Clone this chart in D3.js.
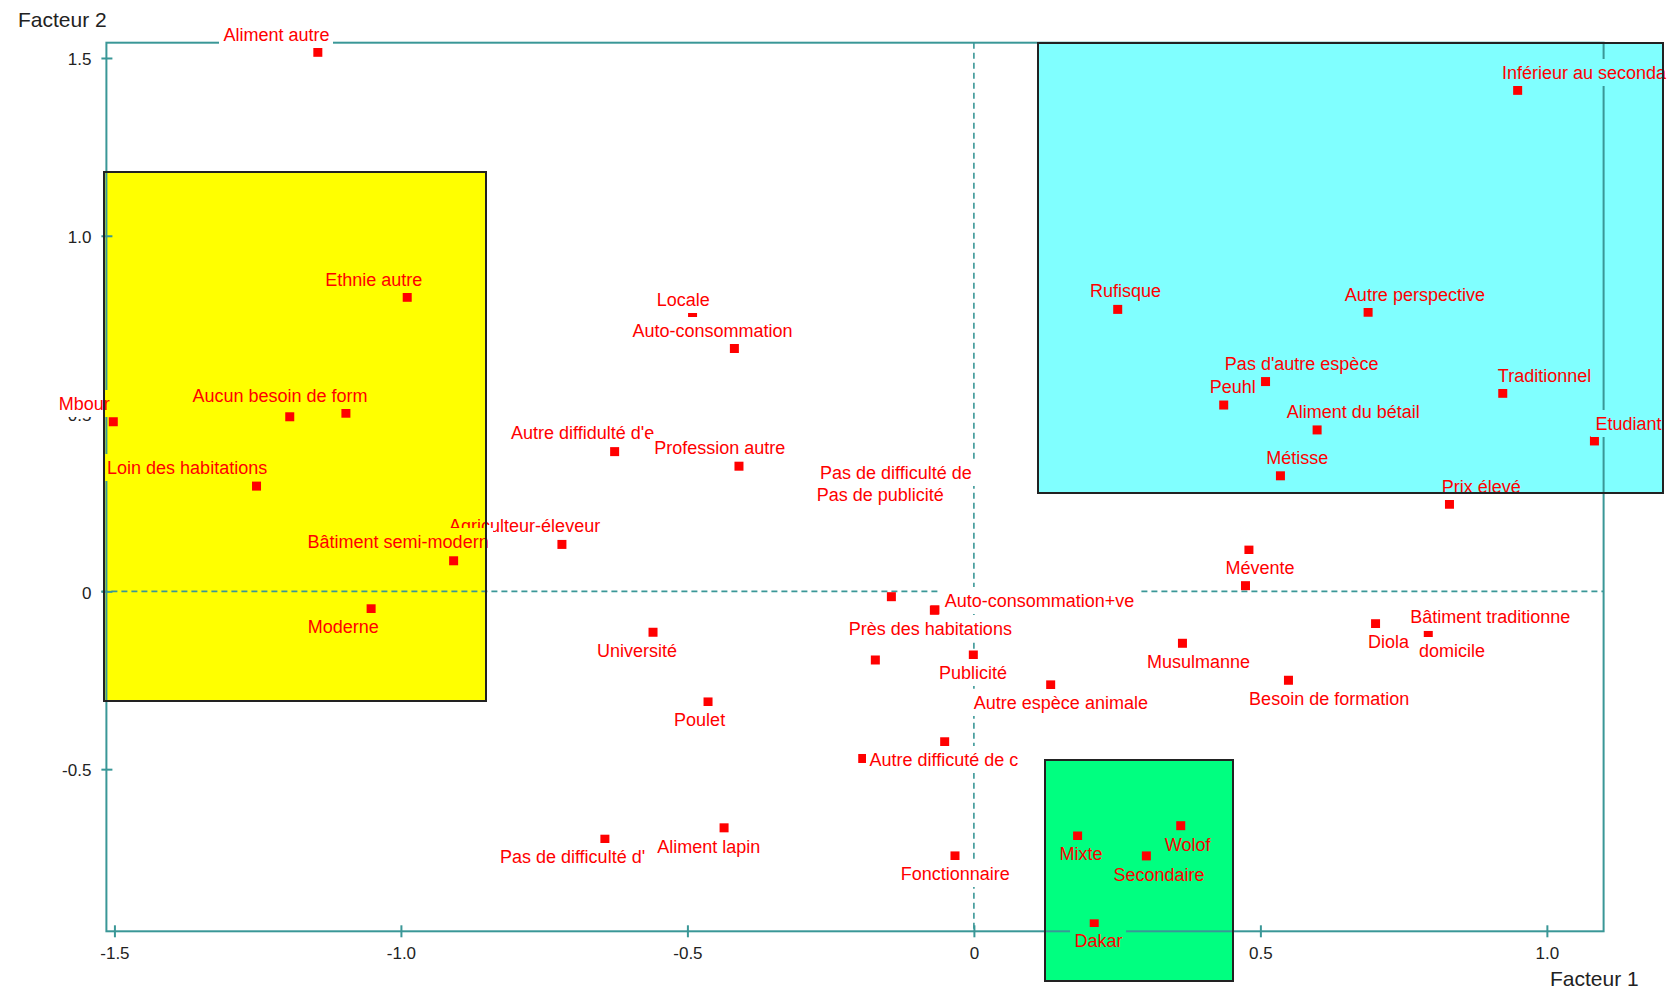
<!DOCTYPE html>
<html>
<head>
<meta charset="utf-8">
<script src="https://cdn.jsdelivr.net/npm/d3@7"></script>
<style>
  html, body { margin: 0; padding: 0; background: #ffffff; }
  svg { display: block; }
</style>
</head>
<body>
<svg id="chart" width="1675" height="991"></svg>
<script>
// Modalities of the correspondence analysis and their coordinates on factors 1 and 2
const modalities = [
  "Aliment autre", "Ethnie autre", "Mbour", "Aucun besoin de form", "",
  "Loin des habitations", "Agriculteur-éleveur", "Bâtiment semi-modern", "Moderne",
  "Locale", "Auto-consommation", "Autre diffidulté d'e", "Profession autre",
  "Pas de difficulté de", "Pas de publicité", "", "Auto-consommation+ve",
  "Près des habitations", "", "Publicité", "Autre espèce animale", "Musulmanne",
  "Université", "Poulet", "", "Autre difficuté de c", "Pas de difficulté d'",
  "Aliment lapin", "Fonctionnaire", "Mixte", "Dakar", "Wolof", "Secondaire",
  "Besoin de formation", "Diola", "Bâtiment traditionne", "domicile", "",
  "Mévente", "Prix élevé", "Métisse", "Aliment du bétail", "Peuhl",
  "Pas d'autre espèce", "Traditionnel", "Etudiant", "Rufisque",
  "Autre perspective", "Inférieur au seconda"
];
const factor1 = [
  -1.145, -0.989, -1.502, -1.194, -1.096,
  -1.252, -0.719, -0.908, -1.052,
  -0.491, -0.418, -0.627, -0.410,
  -0.136, -0.164, -0.144, -0.068,
  -0.069, -0.172, -0.001, 0.134, 0.364,
  -0.560, -0.464, -0.194, -0.051, -0.644,
  -0.436, -0.033, 0.181, 0.210, 0.361, 0.301,
  0.549, 0.701, 0.793, 0.834, 0.480,
  0.474, 0.830, 0.535, 0.599, 0.436,
  0.509, 0.923, 1.083, 0.251,
  0.688, 0.949
];
const factor2 = [
  1.516, 0.827, 0.477, 0.491, 0.501,
  0.296, 0.132, 0.086, -0.049,
  0.772, 0.683, 0.393, 0.352,
  0.330, 0.271, -0.015, -0.052,
  -0.053, -0.193, -0.179, -0.263, -0.146,
  -0.115, -0.311, -0.470, -0.423, -0.697,
  -0.665, -0.744, -0.688, -0.935, -0.659, -0.744,
  -0.250, -0.091, -0.124, -0.168, 0.116,
  0.016, 0.245, 0.325, 0.454, 0.524,
  0.590, 0.557, 0.423, 0.793,
  0.785, 1.409
];

// Where each label sits relative to its point: [dx to text centre, dy to baseline], px
const labelOffsets = [
  [-41.4, -11.6], [-33.4, -11.3], [-29, -11.7], [-9.7, -15], null,
  [-69.4, -12], [-37.3, -12.6], [-55.5, -12.3], [-27.9, 24.3],
  [-9.4, -11.1], [-21.8, -11.4], [-32, -12.4], [-19.3, -12],
  [0, 5.3], [0.4, 5.7], null, [104.5, -3.3],
  [-4, 24.7], null, [-0.3, 24.3], [10.2, 24], [16, 25],
  [-16.1, 24.4], [-8.4, 23.7], null, [-0.7, 24.3], [-32.4, 24],
  [-15.2, 25], [0.2, 24], [3.5, 24], [4.2, 23.3], [6.9, 25], [12.6, 24.7],
  [40.7, 24.7], [12.9, 24.6], [62, -12.2], [0.2, 5.7], null,
  [14.5, -11.4], [31.7, -11.6], [16.8, -11.7], [36.1, -11.7], [9, -11.7],
  [36.1, -11.7], [41.8, -11.6], [34, -11], [7.9, -12.6],
  [46.8, -11.3], [66.4, -11.6]
];

// Highlighted groups of modalities (extent on both factors)
const groupF1Min = [-1.518, 0.1127, 0.124];
const groupF1Max = [-0.851, 1.2028, 0.453];
const groupF2Min = [-0.308, 0.276, -1.096];
const groupF2Max = [1.179, 1.543, -0.474];
const groupFill  = ["#ffff00", "#80ffff", "#00ff80"];

// Axis ticks
const xTicks = [-1.5, -1.0, -0.5, 0, 0.5, 1.0];
const xTickLabels = ["-1.5", "-1.0", "-0.5", "0", "0.5", "1.0"];
const yTicks = [-0.5, 0, 0.5, 1.0, 1.5];
const yTickLabels = ["-0.5", "0", "0.5", "1.0", "1.5"];

const TEAL = "#3a9797";
const FONT = "'Liberation Sans', Arial, sans-serif";

const svg = d3.select("#chart");

const x = d3.scaleLinear().domain([-1.514, 1.099]).range([106.4, 1603.6]);
const y = d3.scaleLinear().domain([-0.956, 1.543]).range([931.3, 42.7]);

const groups = groupFill.map((fill, i) => ({
  x0: Math.round(x(groupF1Min[i])), x1: Math.round(x(groupF1Max[i])),
  y0: Math.round(y(groupF2Max[i])), y1: Math.round(y(groupF2Min[i])),
  fill
}));

// Group fills (behind everything)
svg.append("g").attr("shape-rendering", "crispEdges")
  .selectAll("rect").data(groups).join("rect")
  .attr("x", d => d.x0).attr("y", d => d.y0)
  .attr("width", d => d.x1 - d.x0).attr("height", d => d.y1 - d.y0)
  .attr("fill", d => d.fill);

// Plot frame
const [fx0, fx1] = x.range();
const [fy1, fy0] = y.range();
svg.append("rect")
  .attr("x", fx0).attr("y", fy0)
  .attr("width", fx1 - fx0).attr("height", fy1 - fy0)
  .attr("fill", "none").attr("stroke", TEAL).attr("stroke-width", 2);

// Dashed origin lines
svg.append("line")
  .attr("x1", fx0 - 5).attr("x2", fx1)
  .attr("y1", y(0)).attr("y2", y(0))
  .attr("stroke", TEAL).attr("stroke-width", 1.6).attr("stroke-dasharray", "6,4");
svg.append("line")
  .attr("x1", x(0)).attr("x2", x(0))
  .attr("y1", fy0).attr("y2", fy1)
  .attr("stroke", TEAL).attr("stroke-width", 1.6).attr("stroke-dasharray", "6,4");

// Axes
const gy = svg.append("g")
  .attr("transform", `translate(${fx0},0)`)
  .call(d3.axisLeft(y).tickValues(yTicks).tickFormat((d, i) => yTickLabels[i]));
gy.select(".domain").remove();
gy.attr("font-size", 17).attr("font-family", FONT);
gy.selectAll(".tick line").attr("x1", -5).attr("x2", 6).attr("stroke", TEAL).attr("stroke-width", 2);
gy.selectAll(".tick text").attr("x", -15).attr("dy", "0.4em").attr("fill", "#222");

const gx = svg.append("g")
  .attr("transform", `translate(0,${fy1})`)
  .call(d3.axisBottom(x).tickValues(xTicks).tickFormat((d, i) => xTickLabels[i]));
gx.select(".domain").remove();
gx.attr("font-size", 17).attr("font-family", FONT);
gx.selectAll(".tick line").attr("y1", -6).attr("y2", 6).attr("stroke", TEAL).attr("stroke-width", 2);
gx.selectAll(".tick text").attr("y", 16).attr("fill", "#222");

// Point markers
const idx = d3.range(modalities.length);
svg.append("g").selectAll("rect").data(idx).join("rect")
  .attr("x", i => x(factor1[i]) - 4.5)
  .attr("y", i => y(factor2[i]) - 4.5)
  .attr("width", 9).attr("height", 9)
  .attr("fill", "#ff0000");

// Labels with opaque backgrounds (taking the colour of the group underneath)
const labels = svg.append("g").attr("font-family", FONT).attr("font-size", 18);
idx.forEach(i => {
  const name = modalities[i];
  const off = labelOffsets[i];
  if (!name || !off) return;
  const cx = x(factor1[i]) + off[0];
  const by = y(factor2[i]) + off[1];
  const g = labels.append("g");
  const bg = g.append("g").attr("shape-rendering", "crispEdges");
  const t = g.append("text")
    .attr("x", cx).attr("y", by)
    .attr("text-anchor", "middle")
    .attr("fill", "#ff0000")
    .text(name);
  const w = t.node().getComputedTextLength();
  const bx0 = Math.round(cx - w / 2 - 4), bx1 = Math.round(cx + w / 2 + 4);
  const by0 = Math.round(by - 20), by1 = Math.round(by + 7);
  bg.append("rect")
    .attr("x", bx0).attr("y", by0)
    .attr("width", bx1 - bx0).attr("height", by1 - by0)
    .attr("fill", "#ffffff");
  groups.forEach(gr => {
    const ix0 = Math.max(bx0, gr.x0), ix1 = Math.min(bx1, gr.x1);
    const iy0 = Math.max(by0, gr.y0), iy1 = Math.min(by1, gr.y1);
    if (ix1 > ix0 && iy1 > iy0) {
      bg.append("rect")
        .attr("x", ix0).attr("y", iy0)
        .attr("width", ix1 - ix0).attr("height", iy1 - iy0)
        .attr("fill", gr.fill);
    }
  });
});

// Group outlines on top
svg.append("g").selectAll("rect").data(groups).join("rect")
  .attr("x", d => d.x0).attr("y", d => d.y0)
  .attr("width", d => d.x1 - d.x0).attr("height", d => d.y1 - d.y0)
  .attr("fill", "none").attr("stroke", "#222").attr("stroke-width", 2);

// Axis titles
svg.append("text")
  .attr("x", 18).attr("y", 27)
  .attr("font-family", FONT).attr("font-size", 21).attr("fill", "#222")
  .text("Facteur 2");
svg.append("text")
  .attr("x", 1550).attr("y", 986)
  .attr("font-family", FONT).attr("font-size", 21).attr("fill", "#222")
  .text("Facteur 1");
</script>
</body>
</html>
